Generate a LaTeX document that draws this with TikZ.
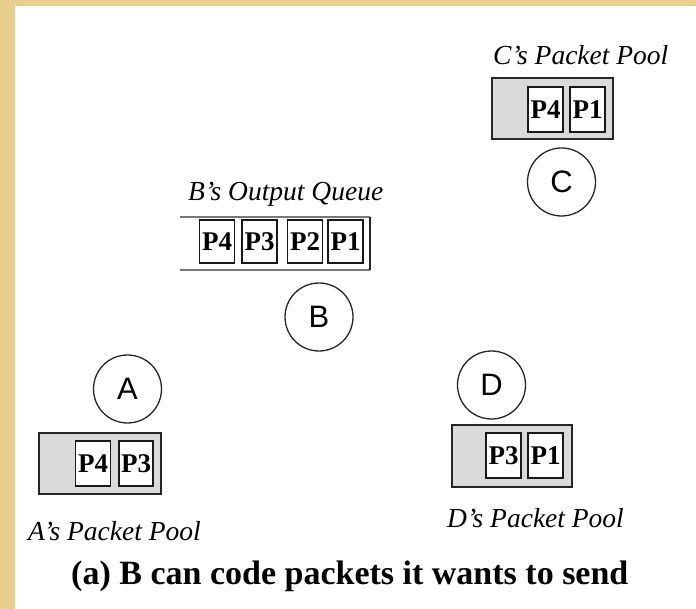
\documentclass[tikz,border=0pt]{standalone}
\usepackage{fontspec}
\setmainfont{Liberation Serif}
\newfontfamily\stationfont{Liberation Sans}
\definecolor{parchment}{RGB}{233,206,144}
\definecolor{poolgray}{RGB}{218,218,218}
\definecolor{queuegray}{RGB}{120,120,120}
\tikzset{
  station/.style={circle, draw=black!85, line width=1.3pt, minimum size=68pt,
    inner sep=0pt, font=\stationfont\fontsize{31}{31}\selectfont},
  pool/.style={draw=black!85, line width=1.7pt, fill=poolgray, inner sep=0pt,
    minimum height=61pt},
  packet/.style={draw=black!90, line width=1.6pt, fill=white, inner sep=0pt,
    minimum width=35pt, minimum height=45pt,
    font=\bfseries\fontsize{27}{27}\selectfont},
  poollabel/.style={inner sep=0pt, anchor=base west,
    font=\itshape\fontsize{27.5}{30}\selectfont},
  queueline/.style={draw=queuegray, line width=2.4pt},
}
\begin{document}
\begin{tikzpicture}[x=1pt, y=-1pt]
  % page: parchment frame with a white sheet on it
  \fill[parchment] (0,0) rectangle (696,609);
  \fill[white] (15,6) rectangle (696,609);
  \useasboundingbox (0,0) rectangle (696,609);

  % --- node C and its packet pool ---
  \node[poollabel] (clabel) at (493,65) {C’s Packet Pool};
  \node[pool, minimum width=121pt] (cpool) at (552.5,108.5) {};
  \node[packet] (c4) at (545.5,109.5) {P4};
  \node[packet] (c1) at (587.5,109.5) {P1};
  \node[station] (C) at (561.5,182) {C};

  % --- node B and its output queue ---
  \node[poollabel] (blabel) at (188,201) {B’s Output Queue};
  \coordinate (qtl) at (180,217);
  \coordinate (qtr) at (370,217);
  \coordinate (qbr) at (370,270);
  \coordinate (qbl) at (180,270);
  \draw[queueline] (qtl) -- (qtr);
  \draw[queueline] (qbl) -- (qbr);
  \draw[line width=1.4pt, black!85] (qtr) -- (qbr);
  \node[packet, minimum height=43pt] (b4) at (217,241.5) {P4};
  \node[packet, minimum height=43pt] (b3) at (259.5,241.5) {P3};
  \node[packet, minimum height=43pt] (b2) at (305,241.5) {P2};
  \node[packet, minimum height=43pt] (b1) at (345.5,241.5) {P1};
  \node[station] (B) at (319,317) {B};

  % --- node A and its packet pool ---
  \node[station] (A) at (127.5,389) {A};
  \node[pool, minimum width=122pt] (apool) at (100,463.5) {};
  \node[packet] (a4) at (93,463.5) {P4};
  \node[packet, minimum width=34pt] (a3) at (136,463.5) {P3};
  \node[poollabel] (alabel) at (28,540) {A’s Packet Pool};

  % --- node D and its packet pool ---
  \node[station] (D) at (491.5,385) {D};
  \node[pool, minimum width=120pt, minimum height=62pt] (dpool) at (512,456) {};
  \node[packet] (d3) at (503.5,455.5) {P3};
  \node[packet] (d1) at (545.5,455.5) {P1};
  \node[poollabel] (dlabel) at (447,527) {D’s Packet Pool};

  % --- caption ---
  \node[inner sep=0pt, anchor=base west, font=\bfseries\fontsize{34}{36}\selectfont]
    (caption) at (71,584) {(a) B can code packets it wants to send};
\end{tikzpicture}
\end{document}
